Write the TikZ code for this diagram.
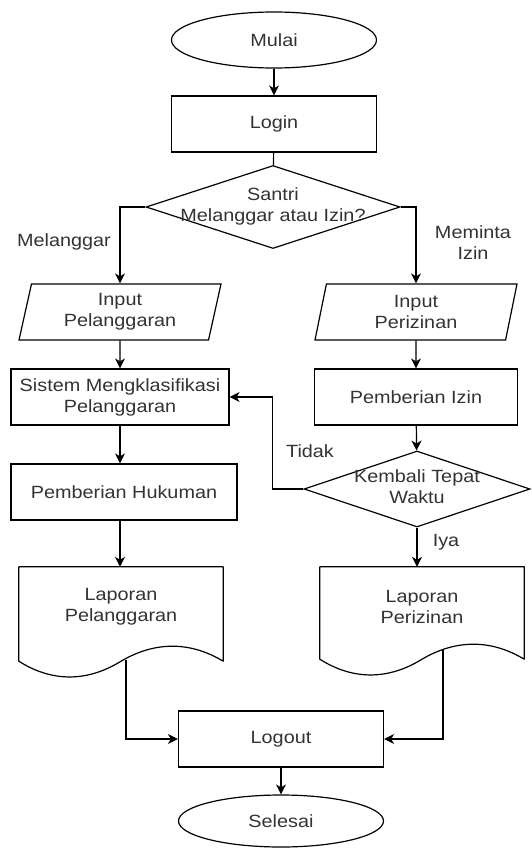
\documentclass[tikz,border=0pt]{standalone}
\usepackage{fontspec}
\setmainfont{Liberation Sans}[FakeStretch=1.12]
\usetikzlibrary{arrows.meta,calc,shapes.geometric}
\newcommand{\dectext}[1]{\makebox[0pt]{\begin{tabular}{@{}c@{}}#1\end{tabular}}}
\tikzset{
  node-term/.style={draw,ellipse,minimum width=205pt,minimum height=56pt,inner sep=0pt,line width=1.2pt},
  node-proc/.style={draw,rectangle,minimum height=56pt,inner sep=2pt,align=center,line width=1.2pt},
  node-io/.style={draw,trapezium,trapezium left angle=73,trapezium right angle=107,trapezium stretches body,minimum width=202pt,minimum height=56pt,inner sep=2pt,align=center,line width=1.2pt},
  node-dec/.style={draw,diamond,inner sep=0pt,line width=1.2pt},
  node-doc/.style={rectangle,minimum width=204pt,minimum height=80pt,inner sep=0pt,align=center},
  doc-line/.style={draw,line width=1.2pt,line join=round},
  flow/.style={-{Stealth[length=10pt,width=10pt,inset=3pt]},line width=1.2pt},
  link/.style={line width=1.2pt},
  lbl/.style={align=center,inner sep=0pt},
}
\begin{document}
\begin{tikzpicture}[x=1pt,y=-1pt,font=\fontsize{17.7}{21}\selectfont,text=black!80]
  \useasboundingbox (0,0) rectangle (531,848);

  % awal: mulai, login, pilihan santri
  \node[node-term] (mulai) at (274,40) {Mulai};
  \node[node-proc,minimum width=205pt] (login) at (274,124) {Login};
  \node[node-dec,minimum width=254pt,minimum height=83pt] (q1) at (273,207) {\dectext{Santri\\Melanggar atau Izin?}};
  \draw[flow] (mulai) -- (login);
  \draw[link] (login) -- (q1);

  % kiri: pelanggaran
  \node[node-io] (inp1) at (120,312) {Input\\Pelanggaran};
  \node[node-proc,minimum width=218pt] (sistem) at (120,397) {Sistem Mengklasifikasi\\Pelanggaran};
  \node[node-proc,minimum width=226pt] (hukuman) at (124,492) {Pemberian Hukuman};
  \node[node-doc] (lap1) at (121,607) {Laporan\\Pelanggaran};
  \draw[doc-line] (lap1.north west) -- (lap1.north east) -- ($(lap1.south east)+(0,14)$)
    .. controls ($(lap1.south)+(69,-6)$) and ($(lap1.south)+(34,-6)$) .. ($(lap1.south)+(0,14)$)
    .. controls ($(lap1.south)+(-34,35)$) and ($(lap1.south)+(-69,35)$) .. ($(lap1.south west)+(0,14)$) -- cycle;
  \draw[flow] (q1.west) -| (inp1);
  \draw[flow] (inp1) -- (sistem);
  \draw[flow] (sistem) -- (sistem |- hukuman.north);
  \draw[flow] (sistem |- hukuman.south) -- (sistem |- lap1.north);
  \node[lbl] (lmelanggar) at (64,242) {Melanggar};

  % kanan: perizinan
  \node[node-io] (inp2) at (416,312) {Input\\Perizinan};
  \node[node-proc,minimum width=203pt] (izin) at (416,397) {Pemberian Izin};
  \node[node-dec,minimum width=226pt,minimum height=76pt] (q2) at (417,489) {\dectext{Kembali Tepat\\Waktu}};
  \node[node-doc] (lap2) at (422,607) {Laporan\\Perizinan};
  \draw[doc-line] (lap2.north west) -- (lap2.north east) -- ($(lap2.south east)+(0,12)$)
    .. controls ($(lap2.south)+(69,-8)$) and ($(lap2.south)+(34,-8)$) .. ($(lap2.south)+(0,12)$)
    .. controls ($(lap2.south)+(-34,33)$) and ($(lap2.south)+(-69,33)$) .. ($(lap2.south west)+(0,12)$) -- cycle;
  \draw[flow] (q1.east) -| (inp2);
  \draw[flow] (inp2) -- (izin);
  \draw[flow] (izin) -- (q2);
  \draw[flow] (q2.west) -- ++(-31,0) |- (sistem.east);
  \draw[flow] (q2.south) -- (q2.south |- lap2.north);
  \node[lbl] (lizin) at (473,243) {Meminta\\Izin};
  \node[lbl] (ltidak) at (310,451) {Tidak};
  \node[lbl] (liya) at (446,542) {Iya};

  % akhir: logout dan selesai
  \node[node-proc,minimum width=205pt] (logout) at (281,739) {Logout};
  \node[node-term,minimum height=52pt] (selesai) at (281,821) {Selesai};
  \draw[flow] ($(lap1.south)+(5,13)$) |- (logout.west);
  \draw[flow] ($(lap2.south)+(21,2)$) |- (logout.east);
  \draw[flow] (logout) -- (selesai);

\end{tikzpicture}
\end{document}
